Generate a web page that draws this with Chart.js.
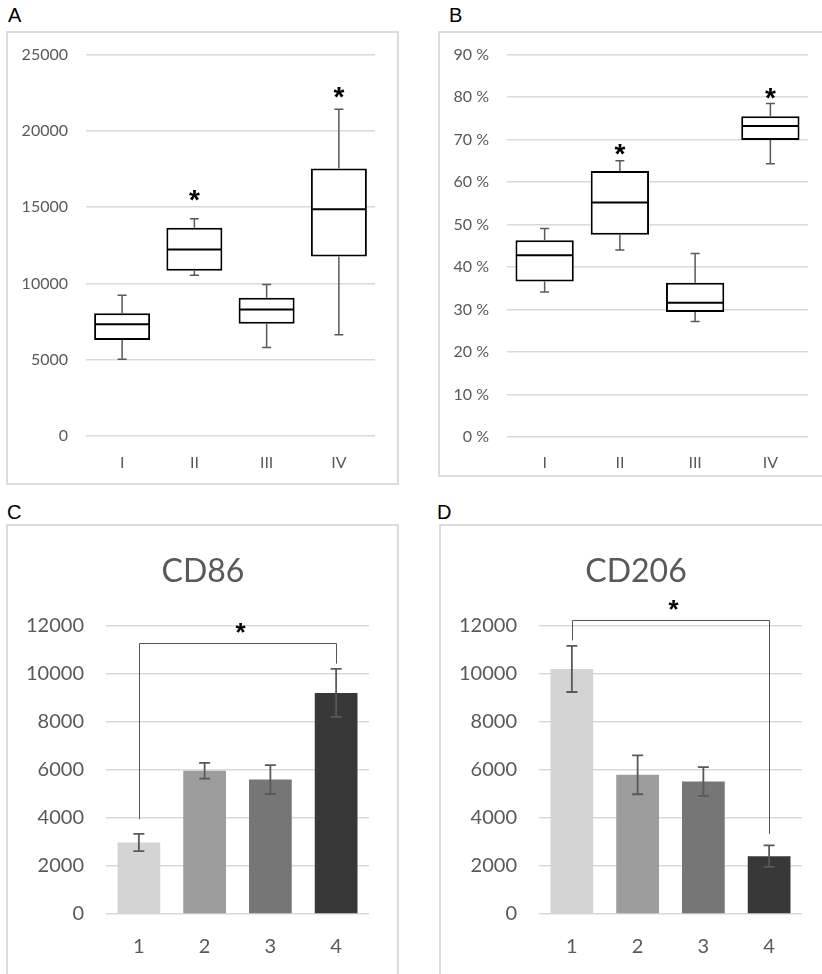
<!DOCTYPE html>
<html>
<head>
<meta charset="utf-8">
<script src="https://cdn.jsdelivr.net/npm/chart.js@4.4.1/dist/chart.umd.min.js"></script>
<style>
body { margin:0; width:822px; height:974px; overflow:hidden; position:relative; background:#fff; font-family:"Liberation Sans", Arial, sans-serif; }
.lbl { position:absolute; font-size:20px; line-height:20px; color:#000; }
.frame { position:absolute; border:2px solid #dcdcdc; box-sizing:border-box; }
canvas { position:absolute; }
</style>
</head>
<body>

<div class="lbl" style="left:8px;top:5px">A</div>
<div class="lbl" style="left:449px;top:5px">B</div>
<div class="lbl" style="left:7px;top:502px">C</div>
<div class="lbl" style="left:437px;top:502px">D</div>

<div class="frame" style="left:6px;top:31px;width:393px;height:454px"></div>
<div class="frame" style="left:438px;top:31px;width:400px;height:446px"></div>
<div class="frame" style="left:6px;top:524px;width:393px;height:470px"></div>
<div class="frame" style="left:439px;top:524px;width:400px;height:470px"></div>

<!-- A and B start a bit higher: the y axis keeps 28px free above the plot -->
<canvas id="chartA" width="390" height="456" style="left:8px;top:27px"></canvas>
<canvas id="chartB" width="382" height="448" style="left:440px;top:27px"></canvas>
<canvas id="chartC" width="390" height="448" style="left:8px;top:526px"></canvas>
<canvas id="chartD" width="381" height="448" style="left:441px;top:526px"></canvas>

<script>
// ---- data ----
const boxLabels = ['I', 'II', 'III', 'IV'];

// panel A (counts)
const aMin = [5030, 10540, 5800, 6630];
const aQ1  = [6300, 10830, 7350, 11770];
const aMed = [7330, 12230, 8290, 14870];
const aQ3  = [8050, 13650, 9060, 17540];
const aMax = [9230, 14240, 9930, 21410];
const aStars = [null, 15700, null, 22500];
const aTicks = [0, 5000, 10000, 15000, 20000, 25000];

// panel B (percent)
const bMin = [34.1, 44.0, 27.2, 64.3];
const bQ1  = [36.6, 47.6, 29.4, 69.9];
const bMed = [42.8, 55.2, 31.6, 73.2];
const bQ3  = [46.3, 62.6, 36.3, 75.5];
const bMax = [49.1, 65.0, 43.2, 78.5];
const bStars = [null, 67.5, null, 80.8];
const bTicks = [0, 10, 20, 30, 40, 50, 60, 70, 80, 90];

// panels C and D (bars with error bars)
const barLabels = ['1', '2', '3', '4'];
const barColors = ['#d4d4d4', '#9c9c9c', '#767676', '#383838'];
const cd86Mean  = [2980, 5970, 5600, 9210];
const cd86Err   = [360, 330, 600, 1000];
const cd206Mean = [10210, 5800, 5520, 2410];
const cd206Err  = [960, 810, 600, 450];
const barTicks  = [0, 2000, 4000, 6000, 8000, 10000, 12000];

// significance brackets: [from index, to index, left foot, right foot, top, star]
const cd86Bracket  = [0, 3, 3950, 10430, 11310, 11850];
const cd206Bracket = [0, 3, 11400, 3340, 12270, 12800];

Chart.defaults.font.family = 'Lato, "Open Sans", sans-serif';
Chart.defaults.color = '#595959';

// whiskers, medians and stars on top of floating bars
function boxPlugin(min, med, max, stars) {
    return {
        id: 'boxExtras',
        afterDatasetsDraw(chart) {
            const ctx = chart.ctx, y = chart.scales.y;
            const bars = chart.getDatasetMeta(0).data;
            ctx.save();
            bars.forEach(function(bar, i) {
                const x = bar.x, half = bar.width / 2;
                const top = Math.min(bar.y, bar.base), bottom = Math.max(bar.y, bar.base);
                const yMax = y.getPixelForValue(max[i]), yMin = y.getPixelForValue(min[i]);
                ctx.strokeStyle = '#595959';
                ctx.lineWidth = 1.5;
                ctx.beginPath();
                ctx.moveTo(x, top); ctx.lineTo(x, yMax);
                ctx.moveTo(x - 4.5, yMax); ctx.lineTo(x + 4.5, yMax);
                ctx.moveTo(x, bottom); ctx.lineTo(x, yMin);
                ctx.moveTo(x - 4.5, yMin); ctx.lineTo(x + 4.5, yMin);
                ctx.stroke();
                // median
                ctx.strokeStyle = '#000';
                ctx.lineWidth = 2;
                ctx.beginPath();
                ctx.moveTo(x - half + 1, y.getPixelForValue(med[i]));
                ctx.lineTo(x + half - 1, y.getPixelForValue(med[i]));
                ctx.stroke();
                if (stars[i] !== null) {
                    ctx.fillStyle = '#000';
                    ctx.font = 'bold 28px "Liberation Sans"';
                    ctx.textAlign = 'center';
                    ctx.textBaseline = 'alphabetic';
                    ctx.fillText('*', x, y.getPixelForValue(stars[i]) + 13);
                }
            });
            ctx.restore();
        }
    };
}

function errorPlugin(mean, err) {
    return {
        id: 'errorBars',
        afterDatasetsDraw(chart) {
            const ctx = chart.ctx, y = chart.scales.y;
            ctx.save();
            ctx.strokeStyle = '#595959';
            ctx.lineWidth = 1.8;
            chart.getDatasetMeta(0).data.forEach(function(bar, i) {
                const x = bar.x;
                const hi = y.getPixelForValue(mean[i] + err[i]);
                const lo = y.getPixelForValue(mean[i] - err[i]);
                ctx.beginPath();
                ctx.moveTo(x, hi); ctx.lineTo(x, lo);
                ctx.moveTo(x - 5.5, hi); ctx.lineTo(x + 5.5, hi);
                ctx.moveTo(x - 5.5, lo); ctx.lineTo(x + 5.5, lo);
                ctx.stroke();
            });
            ctx.restore();
        }
    };
}

function bracketPlugin(b) {
    return {
        id: 'bracket',
        afterDatasetsDraw(chart) {
            const ctx = chart.ctx, y = chart.scales.y;
            const bars = chart.getDatasetMeta(0).data;
            const x1 = bars[b[0]].x, x2 = bars[b[1]].x;
            const yt = y.getPixelForValue(b[4]);
            ctx.save();
            ctx.strokeStyle = '#555';
            ctx.lineWidth = 1;
            ctx.beginPath();
            ctx.moveTo(Math.round(x1) + 0.5, y.getPixelForValue(b[2]));
            ctx.lineTo(Math.round(x1) + 0.5, Math.round(yt) + 0.5);
            ctx.lineTo(Math.round(x2) + 0.5, Math.round(yt) + 0.5);
            ctx.lineTo(Math.round(x2) + 0.5, y.getPixelForValue(b[3]));
            ctx.stroke();
            ctx.fillStyle = '#000';
            ctx.font = 'bold 26px "Liberation Sans"';
            ctx.textAlign = 'center';
            ctx.fillText('*', (x1 + x2) / 2 + 3, y.getPixelForValue(b[5]) + 11);
            ctx.restore();
        }
    };
}

// title centred on the whole frame, like the original
function titlePlugin(text) {
    return {
        id: 'panelTitle',
        afterDraw(chart) {
            const ctx = chart.ctx;
            ctx.save();
            ctx.fillStyle = '#595959';
            ctx.font = '32px Lato';
            ctx.textAlign = 'center';
            ctx.textBaseline = 'middle';
            ctx.fillText(text, 195, 46);
            ctx.restore();
        }
    };
}

function boxChart(id, q1, q3, ticks, fmt, pad, yWidth, xHeight, tickPad, extras) {
    return new Chart(document.getElementById(id), {
        type: 'bar',
        data: {
            labels: boxLabels,
            datasets: [{
                data: q1.map(function(v, i) { return [v, q3[i]]; }),
                backgroundColor: '#fff',
                borderColor: '#000',
                borderWidth: 2,
                borderSkipped: false,
                barPercentage: 0.775,
                categoryPercentage: 1
            }]
        },
        options: {
            responsive: false,
            animation: false,
            layout: { padding: pad },
            plugins: { legend: { display: false }, tooltip: { enabled: false } },
            scales: {
                x: {
                    grid: { display: false },
                    border: { display: false },
                    ticks: { font: { size: 16 }, padding: tickPad },
                    afterFit: function(s) { s.height = xHeight; }
                },
                y: {
                    min: ticks[0],
                    max: ticks[ticks.length - 1],
                    afterBuildTicks: function(s) { s.ticks = ticks.map(function(v) { return { value: v }; }); },
                    ticks: { font: { size: 16 }, padding: 18, callback: fmt },
                    grid: { color: '#d9d9d9', lineWidth: 1.5, drawTicks: false },
                    border: { display: false },
                    afterFit: function(s) { s.width = yWidth; }
                }
            }
        },
        plugins: extras
    });
}

function barChart(id, mean, pad, extras) {
    return new Chart(document.getElementById(id), {
        type: 'bar',
        data: {
            labels: barLabels,
            datasets: [{
                data: mean,
                backgroundColor: barColors,
                barPercentage: 0.65,
                categoryPercentage: 1
            }]
        },
        options: {
            responsive: false,
            animation: false,
            layout: { padding: pad },
            plugins: { legend: { display: false }, tooltip: { enabled: false } },
            scales: {
                x: {
                    grid: { display: false },
                    border: { display: false },
                    ticks: { font: { size: 20 }, padding: 13 },
                    afterFit: function(s) { s.height = 60; }
                },
                y: {
                    min: 0,
                    max: 12000,
                    afterBuildTicks: function(s) { s.ticks = barTicks.map(function(v) { return { value: v }; }); },
                    ticks: { font: { size: 20 }, padding: 22, callback: function(v) { return String(v); } },
                    grid: { color: '#d9d9d9', lineWidth: 1.5, drawTicks: false },
                    border: { display: false },
                    afterFit: function(s) { s.width = 98; }
                }
            }
        },
        plugins: extras
    });
}

// A
boxChart('chartA', aQ1, aQ3, aTicks, function(v) { return String(v); },
    { left: 0, right: 23, top: 20, bottom: 0 }, 78, 47, 9,
    [boxPlugin(aMin, aMed, aMax, aStars)]);

// B
boxChart('chartB', bQ1, bQ3, bTicks, function(v) { return v + ' %'; },
    { left: 0, right: 14, top: 20, bottom: 0 }, 67, 38, 8,
    [boxPlugin(bMin, bMed, bMax, bStars)]);

// C
barChart('chartC', cd86Mean, { left: 0, right: 29, top: 100, bottom: 0 },
    [errorPlugin(cd86Mean, cd86Err), bracketPlugin(cd86Bracket), titlePlugin('CD86')]);

// D
barChart('chartD', cd206Mean, { left: 0, right: 20, top: 100, bottom: 0 },
    [errorPlugin(cd206Mean, cd206Err), bracketPlugin(cd206Bracket), titlePlugin('CD206')]);
</script>
</body>
</html>
